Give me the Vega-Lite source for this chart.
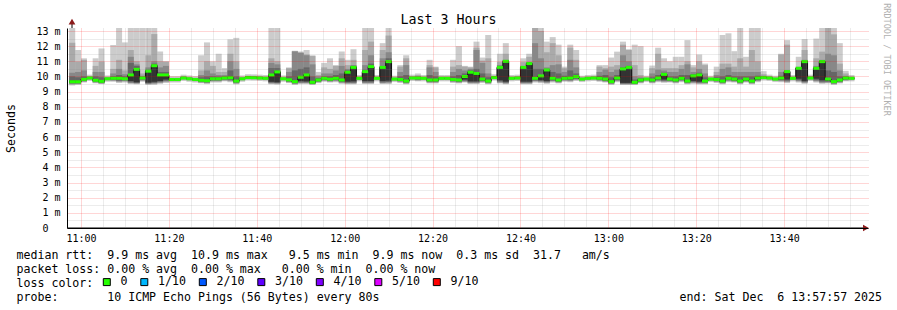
{
"$schema": "https://vega.github.io/schema/vega-lite/v6.json",
"width": 801, "height": 200,
"autosize": {"type": "none"},
"padding": {"left": 67, "top": 28, "right": 29, "bottom": 82},
"background": "#ffffff",
"config": {"view": {"stroke": null}, "font": "DejaVu Sans Mono"},
"title": {"text": "Last 3 Hours", "anchor": "middle", "frame": "group", "dx": -19, "dy": 39, "offset": 4, "baseline": "alphabetic", "font": "DejaVu Sans Mono", "fontSize": 13.3, "fontWeight": "normal", "color": "#000000"},
"datasets": {"smoke": [
{"t":39480,"m":9.66,"p1":9.4,"p2":9.45,"p3":9.5,"p4":9.55,"p5":9.6,"p6":9.72,"p7":10,"p8":10.25,"p9":12.23,"p10":13.6,"loss":"0"},
{"t":39560,"m":9.65,"p1":9.45,"p2":9.48,"p3":9.52,"p4":9.55,"p5":9.6,"p6":9.7,"p7":9.95,"p8":10.3,"p9":10.98,"p10":11.75,"loss":"0"},
{"t":39640,"m":9.81,"p1":9.6,"p2":9.64,"p3":9.68,"p4":9.72,"p5":9.76,"p6":9.86,"p7":10,"p8":10.4,"p9":11.1,"p10":11.2,"loss":"0"},
{"t":39720,"m":9.9,"p1":9.7,"p2":9.78,"p3":9.82,"p4":9.85,"p5":9.88,"p6":9.92,"p7":9.95,"p8":9.98,"p9":10.02,"p10":10.12,"loss":"0"},
{"t":39800,"m":9.75,"p1":9.55,"p2":9.58,"p3":9.62,"p4":9.66,"p5":9.7,"p6":9.8,"p7":10,"p8":10.3,"p9":10.7,"p10":11.2,"loss":"0"},
{"t":39880,"m":9.68,"p1":9.5,"p2":9.52,"p3":9.55,"p4":9.58,"p5":9.63,"p6":9.73,"p7":9.95,"p8":10.3,"p9":10.98,"p10":11.85,"loss":"0"},
{"t":39960,"m":9.85,"p1":9.65,"p2":9.73,"p3":9.77,"p4":9.8,"p5":9.83,"p6":9.87,"p7":9.9,"p8":9.93,"p9":9.97,"p10":10.07,"loss":"0"},
{"t":40040,"m":9.88,"p1":9.65,"p2":9.7,"p3":9.74,"p4":9.78,"p5":9.82,"p6":9.92,"p7":10,"p8":10.2,"p9":10.5,"p10":12.08,"loss":"0"},
{"t":40120,"m":9.88,"p1":9.58,"p2":9.62,"p3":9.68,"p4":9.72,"p5":9.8,"p6":9.93,"p7":10.1,"p8":10.5,"p9":11.1,"p10":13.6,"loss":"0"},
{"t":40200,"m":9.85,"p1":9.6,"p2":9.66,"p3":9.7,"p4":9.75,"p5":9.8,"p6":9.9,"p7":10,"p8":10.15,"p9":10.4,"p10":12.25,"loss":"0"},
{"t":40280,"m":10.1,"p1":9.5,"p2":9.55,"p3":9.58,"p4":9.62,"p5":9.7,"p6":10.15,"p7":10.9,"p8":11.3,"p9":11.75,"p10":13.6,"loss":"0"},
{"t":40360,"m":10.47,"p1":9.48,"p2":9.52,"p3":9.55,"p4":9.58,"p5":9.62,"p6":10.5,"p7":10.7,"p8":10.8,"p9":11,"p10":13.6,"loss":"0"},
{"t":40440,"m":9.9,"p1":9.65,"p2":9.7,"p3":9.75,"p4":9.8,"p5":9.84,"p6":9.94,"p7":9.98,"p8":10.05,"p9":10.2,"p10":13.6,"loss":"0"},
{"t":40520,"m":10.35,"p1":9.45,"p2":9.48,"p3":9.52,"p4":9.55,"p5":9.6,"p6":10.4,"p7":10.45,"p8":10.6,"p9":11.4,"p10":13.6,"loss":"0"},
{"t":40600,"m":10.71,"p1":9.45,"p2":9.5,"p3":9.55,"p4":9.58,"p5":9.65,"p6":10.76,"p7":10.85,"p8":11,"p9":12.8,"p10":13.6,"loss":"0"},
{"t":40680,"m":10.1,"p1":9.52,"p2":9.56,"p3":9.6,"p4":9.65,"p5":9.7,"p6":10.15,"p7":10.3,"p8":10.6,"p9":11,"p10":11.65,"loss":"0"},
{"t":40760,"m":10.1,"p1":9.58,"p2":9.62,"p3":9.68,"p4":9.72,"p5":9.8,"p6":10.15,"p7":10.3,"p8":10.7,"p9":10.98,"p10":11,"loss":"0"},
{"t":40840,"m":9.8,"p1":9.6,"p2":9.68,"p3":9.72,"p4":9.75,"p5":9.78,"p6":9.82,"p7":9.85,"p8":9.88,"p9":9.92,"p10":10.02,"loss":"0"},
{"t":40920,"m":9.8,"p1":9.6,"p2":9.68,"p3":9.72,"p4":9.75,"p5":9.78,"p6":9.82,"p7":9.85,"p8":9.88,"p9":9.92,"p10":10.02,"loss":"0"},
{"t":41000,"m":9.9,"p1":9.7,"p2":9.78,"p3":9.82,"p4":9.85,"p5":9.88,"p6":9.92,"p7":9.95,"p8":9.98,"p9":10.02,"p10":10.12,"loss":"0"},
{"t":41080,"m":9.85,"p1":9.65,"p2":9.73,"p3":9.77,"p4":9.8,"p5":9.83,"p6":9.87,"p7":9.9,"p8":9.93,"p9":9.97,"p10":10.07,"loss":"0"},
{"t":41160,"m":9.8,"p1":9.6,"p2":9.68,"p3":9.72,"p4":9.75,"p5":9.78,"p6":9.82,"p7":9.85,"p8":9.88,"p9":9.92,"p10":10.02,"loss":"0"},
{"t":41240,"m":9.75,"p1":9.55,"p2":9.58,"p3":9.62,"p4":9.66,"p5":9.7,"p6":9.8,"p7":9.95,"p8":10.1,"p9":10.4,"p10":11.4,"loss":"0"},
{"t":41320,"m":9.72,"p1":9.5,"p2":9.55,"p3":9.58,"p4":9.62,"p5":9.67,"p6":9.77,"p7":10,"p8":10.4,"p9":11,"p10":12.25,"loss":"0"},
{"t":41400,"m":9.85,"p1":9.6,"p2":9.66,"p3":9.7,"p4":9.75,"p5":9.8,"p6":9.9,"p7":10,"p8":10.2,"p9":10.7,"p10":11,"loss":"0"},
{"t":41480,"m":9.85,"p1":9.6,"p2":9.66,"p3":9.7,"p4":9.75,"p5":9.8,"p6":9.9,"p7":9.98,"p8":10.1,"p9":10.3,"p10":11.5,"loss":"0"},
{"t":41560,"m":9.9,"p1":9.68,"p2":9.72,"p3":9.76,"p4":9.8,"p5":9.85,"p6":9.95,"p7":10,"p8":10.1,"p9":10.3,"p10":10.55,"loss":"0"},
{"t":41640,"m":9.92,"p1":9.62,"p2":9.68,"p3":9.72,"p4":9.78,"p5":9.85,"p6":9.97,"p7":10.4,"p8":11,"p9":11.5,"p10":12.45,"loss":"0"},
{"t":41720,"m":9.7,"p1":9.48,"p2":9.52,"p3":9.56,"p4":9.6,"p5":9.65,"p6":9.75,"p7":10,"p8":10.5,"p9":11,"p10":12.55,"loss":"0"},
{"t":41800,"m":9.85,"p1":9.65,"p2":9.73,"p3":9.77,"p4":9.8,"p5":9.83,"p6":9.87,"p7":9.9,"p8":9.93,"p9":9.97,"p10":10.07,"loss":"0"},
{"t":41880,"m":9.93,"p1":9.73,"p2":9.81,"p3":9.85,"p4":9.88,"p5":9.91,"p6":9.95,"p7":9.98,"p8":10.01,"p9":10.05,"p10":10.15,"loss":"0"},
{"t":41960,"m":9.92,"p1":9.72,"p2":9.8,"p3":9.84,"p4":9.87,"p5":9.9,"p6":9.94,"p7":9.97,"p8":10,"p9":10.04,"p10":10.14,"loss":"0"},
{"t":42040,"m":9.9,"p1":9.7,"p2":9.78,"p3":9.82,"p4":9.85,"p5":9.88,"p6":9.92,"p7":9.95,"p8":9.98,"p9":10.02,"p10":10.12,"loss":"0"},
{"t":42120,"m":9.88,"p1":9.68,"p2":9.76,"p3":9.8,"p4":9.83,"p5":9.86,"p6":9.9,"p7":9.93,"p8":9.96,"p9":10,"p10":10.1,"loss":"0"},
{"t":42200,"m":10.1,"p1":9.48,"p2":9.52,"p3":9.56,"p4":9.6,"p5":9.65,"p6":10.15,"p7":10.55,"p8":10.9,"p9":11.2,"p10":13.6,"loss":"0"},
{"t":42280,"m":10.3,"p1":9.46,"p2":9.5,"p3":9.55,"p4":9.58,"p5":9.62,"p6":10.35,"p7":10.55,"p8":10.8,"p9":11,"p10":13.6,"loss":"0"},
{"t":42360,"m":9.85,"p1":9.65,"p2":9.73,"p3":9.77,"p4":9.8,"p5":9.83,"p6":9.87,"p7":9.9,"p8":9.93,"p9":9.97,"p10":10.07,"loss":"0"},
{"t":42440,"m":9.78,"p1":9.56,"p2":9.6,"p3":9.64,"p4":9.68,"p5":9.72,"p6":9.83,"p7":10,"p8":10.3,"p9":10.55,"p10":10.6,"loss":"0"},
{"t":42520,"m":9.66,"p1":9.45,"p2":9.48,"p3":9.52,"p4":9.56,"p5":9.6,"p6":9.72,"p7":10.4,"p8":11.65,"p9":11.68,"p10":11.7,"loss":"0"},
{"t":42600,"m":9.95,"p1":9.5,"p2":9.55,"p3":9.58,"p4":9.62,"p5":9.7,"p6":10,"p7":10.5,"p8":11.55,"p9":11.6,"p10":11.65,"loss":"0"},
{"t":42680,"m":10.1,"p1":9.5,"p2":9.55,"p3":9.58,"p4":9.62,"p5":9.68,"p6":10.15,"p7":10.6,"p8":11.4,"p9":11.45,"p10":11.75,"loss":"0"},
{"t":42760,"m":9.62,"p1":9.44,"p2":9.47,"p3":9.5,"p4":9.52,"p5":9.56,"p6":9.68,"p7":10,"p8":10.8,"p9":11.35,"p10":11.4,"loss":"0"},
{"t":42840,"m":9.77,"p1":9.56,"p2":9.6,"p3":9.64,"p4":9.68,"p5":9.72,"p6":9.82,"p7":9.9,"p8":10,"p9":10.1,"p10":10.3,"loss":"0"},
{"t":42920,"m":9.88,"p1":9.65,"p2":9.7,"p3":9.74,"p4":9.78,"p5":9.82,"p6":9.93,"p7":10,"p8":10.2,"p9":10.6,"p10":10.9,"loss":"0"},
{"t":43000,"m":9.82,"p1":9.6,"p2":9.64,"p3":9.68,"p4":9.72,"p5":9.76,"p6":9.87,"p7":10,"p8":10.2,"p9":10.5,"p10":11.2,"loss":"0"},
{"t":43080,"m":9.88,"p1":9.62,"p2":9.68,"p3":9.72,"p4":9.76,"p5":9.82,"p6":9.93,"p7":10.1,"p8":10.4,"p9":10.7,"p10":10.75,"loss":"0"},
{"t":43160,"m":9.77,"p1":9.52,"p2":9.56,"p3":9.6,"p4":9.65,"p5":9.7,"p6":9.82,"p7":10.2,"p8":10.7,"p9":11.2,"p10":11.65,"loss":"0"},
{"t":43240,"m":10.28,"p1":9.48,"p2":9.52,"p3":9.56,"p4":9.6,"p5":9.66,"p6":10.33,"p7":10.4,"p8":10.5,"p9":10.75,"p10":11.1,"loss":"0"},
{"t":43320,"m":10.6,"p1":9.48,"p2":9.52,"p3":9.56,"p4":9.6,"p5":9.68,"p6":10.65,"p7":10.7,"p8":10.75,"p9":11.1,"p10":11.8,"loss":"0"},
{"t":43400,"m":9.88,"p1":9.68,"p2":9.76,"p3":9.8,"p4":9.83,"p5":9.86,"p6":9.9,"p7":9.93,"p8":9.96,"p9":10,"p10":10.1,"loss":"0"},
{"t":43480,"m":10.32,"p1":9.5,"p2":9.54,"p3":9.58,"p4":9.62,"p5":9.7,"p6":10.37,"p7":10.45,"p8":10.75,"p9":11.75,"p10":13.6,"loss":"0"},
{"t":43560,"m":10.65,"p1":9.5,"p2":9.54,"p3":9.58,"p4":9.62,"p5":9.7,"p6":10.7,"p7":10.85,"p8":11.4,"p9":12.3,"p10":13.6,"loss":"0"},
{"t":43640,"m":9.88,"p1":9.68,"p2":9.76,"p3":9.8,"p4":9.83,"p5":9.86,"p6":9.9,"p7":9.93,"p8":9.96,"p9":10,"p10":10.1,"loss":"0"},
{"t":43720,"m":10.6,"p1":9.5,"p2":9.54,"p3":9.58,"p4":9.62,"p5":9.7,"p6":10.65,"p7":10.7,"p8":11.2,"p9":11.75,"p10":12.2,"loss":"0"},
{"t":43800,"m":10.98,"p1":9.5,"p2":9.55,"p3":9.6,"p4":9.64,"p5":9.72,"p6":11.03,"p7":11.2,"p8":11.6,"p9":12.7,"p10":13.6,"loss":"0"},
{"t":43880,"m":9.83,"p1":9.63,"p2":9.71,"p3":9.75,"p4":9.78,"p5":9.81,"p6":9.85,"p7":9.88,"p8":9.91,"p9":9.95,"p10":10.05,"loss":"0"},
{"t":43960,"m":9.8,"p1":9.58,"p2":9.62,"p3":9.66,"p4":9.7,"p5":9.74,"p6":9.85,"p7":10,"p8":10.3,"p9":10.65,"p10":10.75,"loss":"0"},
{"t":44040,"m":9.7,"p1":9.48,"p2":9.52,"p3":9.56,"p4":9.6,"p5":9.64,"p6":9.75,"p7":10.1,"p8":10.75,"p9":11.2,"p10":11.4,"loss":"0"},
{"t":44120,"m":9.9,"p1":9.7,"p2":9.78,"p3":9.82,"p4":9.85,"p5":9.88,"p6":9.92,"p7":9.95,"p8":9.98,"p9":10.02,"p10":10.12,"loss":"0"},
{"t":44200,"m":9.9,"p1":9.68,"p2":9.72,"p3":9.76,"p4":9.8,"p5":9.85,"p6":9.94,"p7":9.97,"p8":10.02,"p9":10.1,"p10":10.2,"loss":"0"},
{"t":44280,"m":9.88,"p1":9.68,"p2":9.76,"p3":9.8,"p4":9.83,"p5":9.86,"p6":9.9,"p7":9.93,"p8":9.96,"p9":10,"p10":10.1,"loss":"0"},
{"t":44360,"m":9.77,"p1":9.54,"p2":9.58,"p3":9.62,"p4":9.66,"p5":9.7,"p6":9.82,"p7":10.1,"p8":10.6,"p9":10.75,"p10":11.1,"loss":"0"},
{"t":44440,"m":9.77,"p1":9.54,"p2":9.58,"p3":9.62,"p4":9.66,"p5":9.7,"p6":9.82,"p7":10,"p8":10.3,"p9":10.6,"p10":10.65,"loss":"0"},
{"t":44520,"m":9.88,"p1":9.68,"p2":9.76,"p3":9.8,"p4":9.83,"p5":9.86,"p6":9.9,"p7":9.93,"p8":9.96,"p9":10,"p10":10.1,"loss":"0"},
{"t":44600,"m":9.88,"p1":9.68,"p2":9.76,"p3":9.8,"p4":9.83,"p5":9.86,"p6":9.9,"p7":9.93,"p8":9.96,"p9":10,"p10":10.1,"loss":"0"},
{"t":44680,"m":9.8,"p1":9.58,"p2":9.62,"p3":9.66,"p4":9.7,"p5":9.74,"p6":9.85,"p7":10,"p8":10.3,"p9":10.65,"p10":11.1,"loss":"0"},
{"t":44760,"m":9.77,"p1":9.54,"p2":9.58,"p3":9.62,"p4":9.66,"p5":9.7,"p6":9.82,"p7":10.1,"p8":10.5,"p9":10.75,"p10":12,"loss":"0"},
{"t":44840,"m":10,"p1":9.6,"p2":9.64,"p3":9.68,"p4":9.72,"p5":9.8,"p6":10.05,"p7":10.2,"p8":10.4,"p9":10.65,"p10":10.7,"loss":"0"},
{"t":44920,"m":10.28,"p1":9.5,"p2":9.54,"p3":9.58,"p4":9.62,"p5":9.68,"p6":10.33,"p7":10.4,"p8":10.5,"p9":10.6,"p10":10.65,"loss":"0"},
{"t":45000,"m":10.2,"p1":9.5,"p2":9.54,"p3":9.58,"p4":9.62,"p5":9.68,"p6":10.25,"p7":10.5,"p8":11.75,"p9":11.9,"p10":12.3,"loss":"0"},
{"t":45080,"m":9.83,"p1":9.58,"p2":9.62,"p3":9.66,"p4":9.7,"p5":9.76,"p6":9.88,"p7":10.2,"p8":10.9,"p9":11.05,"p10":11.25,"loss":"0"},
{"t":45160,"m":9.7,"p1":9.48,"p2":9.52,"p3":9.56,"p4":9.6,"p5":9.64,"p6":9.75,"p7":9.95,"p8":10.2,"p9":11.2,"p10":12.74,"loss":"0"},
{"t":45240,"m":9.93,"p1":9.73,"p2":9.81,"p3":9.85,"p4":9.88,"p5":9.91,"p6":9.95,"p7":9.98,"p8":10.01,"p9":10.05,"p10":10.15,"loss":"0"},
{"t":45320,"m":10.6,"p1":9.54,"p2":9.58,"p3":9.62,"p4":9.68,"p5":9.75,"p6":10.65,"p7":10.7,"p8":10.75,"p9":10.95,"p10":11.5,"loss":"0"},
{"t":45400,"m":11,"p1":9.48,"p2":9.52,"p3":9.56,"p4":9.6,"p5":9.66,"p6":11.05,"p7":11.07,"p8":11.1,"p9":11.5,"p10":12.2,"loss":"0"},
{"t":45480,"m":9.88,"p1":9.68,"p2":9.76,"p3":9.8,"p4":9.83,"p5":9.86,"p6":9.9,"p7":9.93,"p8":9.96,"p9":10,"p10":10.1,"loss":"0"},
{"t":45560,"m":9.9,"p1":9.7,"p2":9.78,"p3":9.82,"p4":9.85,"p5":9.88,"p6":9.92,"p7":9.95,"p8":9.98,"p9":10.02,"p10":10.12,"loss":"0"},
{"t":45640,"m":10.6,"p1":9.48,"p2":9.52,"p3":9.56,"p4":9.6,"p5":9.66,"p6":10.65,"p7":10.67,"p8":10.7,"p9":10.95,"p10":11.2,"loss":"0"},
{"t":45720,"m":10.85,"p1":9.48,"p2":9.52,"p3":9.56,"p4":9.6,"p5":9.66,"p6":10.9,"p7":10.92,"p8":10.95,"p9":11.3,"p10":11.5,"loss":"0"},
{"t":45800,"m":9.88,"p1":9.6,"p2":9.66,"p3":9.7,"p4":9.74,"p5":9.8,"p6":9.93,"p7":10.5,"p8":12.2,"p9":13.3,"p10":13.6,"loss":"0"},
{"t":45880,"m":10.04,"p1":9.56,"p2":9.62,"p3":9.66,"p4":9.7,"p5":9.76,"p6":10.1,"p7":10.5,"p8":11.2,"p9":13,"p10":13.6,"loss":"0"},
{"t":45960,"m":10.43,"p1":9.52,"p2":9.56,"p3":9.6,"p4":9.64,"p5":9.7,"p6":10.48,"p7":10.5,"p8":10.6,"p9":11.6,"p10":12.3,"loss":"0"},
{"t":46040,"m":9.88,"p1":9.6,"p2":9.66,"p3":9.7,"p4":9.74,"p5":9.8,"p6":9.93,"p7":10.3,"p8":10.75,"p9":12.2,"p10":12.6,"loss":"0"},
{"t":46120,"m":9.77,"p1":9.54,"p2":9.58,"p3":9.62,"p4":9.66,"p5":9.7,"p6":9.82,"p7":10.2,"p8":10.8,"p9":11.4,"p10":12.1,"loss":"0"},
{"t":46200,"m":9.88,"p1":9.65,"p2":9.7,"p3":9.74,"p4":9.78,"p5":9.82,"p6":9.93,"p7":10.05,"p8":10.3,"p9":10.55,"p10":10.65,"loss":"0"},
{"t":46280,"m":9.9,"p1":9.62,"p2":9.68,"p3":9.72,"p4":9.76,"p5":9.82,"p6":9.95,"p7":10.4,"p8":11.1,"p9":11.9,"p10":12.1,"loss":"0"},
{"t":46360,"m":9.99,"p1":9.7,"p2":9.76,"p3":9.8,"p4":9.84,"p5":9.9,"p6":10.04,"p7":10.2,"p8":10.6,"p9":11.1,"p10":11.75,"loss":"0"},
{"t":46440,"m":9.83,"p1":9.63,"p2":9.71,"p3":9.75,"p4":9.78,"p5":9.81,"p6":9.85,"p7":9.88,"p8":9.91,"p9":9.95,"p10":10.05,"loss":"0"},
{"t":46520,"m":9.88,"p1":9.68,"p2":9.76,"p3":9.8,"p4":9.83,"p5":9.86,"p6":9.9,"p7":9.93,"p8":9.96,"p9":10,"p10":10.1,"loss":"0"},
{"t":46600,"m":9.9,"p1":9.7,"p2":9.78,"p3":9.82,"p4":9.85,"p5":9.88,"p6":9.92,"p7":9.95,"p8":9.98,"p9":10.02,"p10":10.12,"loss":"0"},
{"t":46680,"m":9.88,"p1":9.65,"p2":9.7,"p3":9.74,"p4":9.78,"p5":9.82,"p6":9.93,"p7":10.05,"p8":10.3,"p9":10.65,"p10":10.75,"loss":"0"},
{"t":46760,"m":9.83,"p1":9.6,"p2":9.64,"p3":9.68,"p4":9.72,"p5":9.76,"p6":9.88,"p7":10.1,"p8":10.45,"p9":10.55,"p10":10.75,"loss":"0"},
{"t":46840,"m":9.66,"p1":9.45,"p2":9.48,"p3":9.52,"p4":9.56,"p5":9.6,"p6":9.71,"p7":9.95,"p8":10.3,"p9":10.65,"p10":11.25,"loss":"0"},
{"t":46920,"m":9.9,"p1":9.62,"p2":9.68,"p3":9.72,"p4":9.76,"p5":9.82,"p6":9.95,"p7":10.1,"p8":10.45,"p9":10.75,"p10":11.64,"loss":"0"},
{"t":47000,"m":10.5,"p1":9.44,"p2":9.47,"p3":9.5,"p4":9.54,"p5":9.58,"p6":10.55,"p7":10.6,"p8":11.4,"p9":12.1,"p10":12.3,"loss":"0"},
{"t":47080,"m":10.6,"p1":9.44,"p2":9.47,"p3":9.5,"p4":9.54,"p5":9.58,"p6":10.65,"p7":10.7,"p8":11,"p9":11.75,"p10":11.8,"loss":"0"},
{"t":47160,"m":9.62,"p1":9.44,"p2":9.47,"p3":9.5,"p4":9.52,"p5":9.56,"p6":9.67,"p7":9.8,"p8":10,"p9":10.75,"p10":12.1,"loss":"0"},
{"t":47240,"m":9.77,"p1":9.54,"p2":9.58,"p3":9.62,"p4":9.66,"p5":9.7,"p6":9.82,"p7":9.88,"p8":9.95,"p9":10.1,"p10":12,"loss":"0"},
{"t":47320,"m":9.83,"p1":9.63,"p2":9.71,"p3":9.75,"p4":9.78,"p5":9.81,"p6":9.85,"p7":9.88,"p8":9.91,"p9":9.95,"p10":10.05,"loss":"0"},
{"t":47400,"m":9.77,"p1":9.54,"p2":9.58,"p3":9.62,"p4":9.66,"p5":9.7,"p6":9.82,"p7":9.95,"p8":10.2,"p9":10.55,"p10":10.72,"loss":"0"},
{"t":47480,"m":9.9,"p1":9.62,"p2":9.68,"p3":9.72,"p4":9.76,"p5":9.82,"p6":9.95,"p7":10.1,"p8":10.45,"p9":11.5,"p10":11.9,"loss":"0"},
{"t":47560,"m":10.14,"p1":9.58,"p2":9.64,"p3":9.68,"p4":9.72,"p5":9.8,"p6":10.19,"p7":10.25,"p8":10.4,"p9":10.55,"p10":11.2,"loss":"0"},
{"t":47640,"m":9.83,"p1":9.6,"p2":9.64,"p3":9.68,"p4":9.72,"p5":9.76,"p6":9.88,"p7":10,"p8":10.3,"p9":10.55,"p10":11,"loss":"0"},
{"t":47720,"m":9.77,"p1":9.54,"p2":9.58,"p3":9.62,"p4":9.66,"p5":9.7,"p6":9.82,"p7":10,"p8":10.3,"p9":10.55,"p10":11.3,"loss":"0"},
{"t":47800,"m":9.88,"p1":9.62,"p2":9.68,"p3":9.72,"p4":9.76,"p5":9.82,"p6":9.93,"p7":10.1,"p8":10.5,"p9":10.75,"p10":11.3,"loss":"0"},
{"t":47880,"m":9.7,"p1":9.48,"p2":9.52,"p3":9.56,"p4":9.6,"p5":9.64,"p6":9.75,"p7":10.1,"p8":10.8,"p9":11,"p10":12.4,"loss":"0"},
{"t":47960,"m":10.04,"p1":9.52,"p2":9.56,"p3":9.6,"p4":9.64,"p5":9.7,"p6":10.09,"p7":10.15,"p8":10.3,"p9":10.6,"p10":10.75,"loss":"0"},
{"t":48040,"m":10.1,"p1":9.48,"p2":9.52,"p3":9.56,"p4":9.6,"p5":9.66,"p6":10.15,"p7":10.25,"p8":10.5,"p9":11,"p10":11.45,"loss":"0"},
{"t":48120,"m":9.7,"p1":9.48,"p2":9.52,"p3":9.56,"p4":9.6,"p5":9.64,"p6":9.75,"p7":9.95,"p8":10.2,"p9":10.75,"p10":10.85,"loss":"0"},
{"t":48200,"m":9.83,"p1":9.63,"p2":9.71,"p3":9.75,"p4":9.78,"p5":9.81,"p6":9.85,"p7":9.88,"p8":9.91,"p9":9.95,"p10":10.05,"loss":"0"},
{"t":48280,"m":9.8,"p1":9.58,"p2":9.62,"p3":9.66,"p4":9.7,"p5":9.74,"p6":9.85,"p7":9.95,"p8":10.1,"p9":10.3,"p10":10.65,"loss":"0"},
{"t":48360,"m":9.7,"p1":9.48,"p2":9.52,"p3":9.56,"p4":9.6,"p5":9.64,"p6":9.75,"p7":10,"p8":10.5,"p9":10.85,"p10":12.74,"loss":"0"},
{"t":48440,"m":9.88,"p1":9.62,"p2":9.68,"p3":9.72,"p4":9.76,"p5":9.82,"p6":9.93,"p7":10.1,"p8":10.6,"p9":10.85,"p10":12.85,"loss":"0"},
{"t":48520,"m":9.83,"p1":9.6,"p2":9.64,"p3":9.68,"p4":9.72,"p5":9.76,"p6":9.88,"p7":10,"p8":10.3,"p9":10.65,"p10":11.67,"loss":"0"},
{"t":48600,"m":9.7,"p1":9.48,"p2":9.52,"p3":9.56,"p4":9.6,"p5":9.64,"p6":9.75,"p7":10,"p8":10.3,"p9":11.2,"p10":13.6,"loss":"0"},
{"t":48680,"m":9.83,"p1":9.6,"p2":9.64,"p3":9.68,"p4":9.72,"p5":9.76,"p6":9.88,"p7":10,"p8":10.3,"p9":10.65,"p10":11.3,"loss":"0"},
{"t":48760,"m":9.7,"p1":9.48,"p2":9.52,"p3":9.56,"p4":9.6,"p5":9.64,"p6":9.75,"p7":10,"p8":10.3,"p9":11.75,"p10":13.6,"loss":"0"},
{"t":48840,"m":9.9,"p1":9.62,"p2":9.68,"p3":9.72,"p4":9.76,"p5":9.82,"p6":9.95,"p7":10.05,"p8":10.3,"p9":11,"p10":13.6,"loss":"0"},
{"t":48920,"m":9.93,"p1":9.73,"p2":9.81,"p3":9.85,"p4":9.88,"p5":9.91,"p6":9.95,"p7":9.98,"p8":10.05,"p9":10.15,"p10":10.35,"loss":"0"},
{"t":49000,"m":9.9,"p1":9.7,"p2":9.78,"p3":9.82,"p4":9.85,"p5":9.88,"p6":9.92,"p7":9.95,"p8":9.98,"p9":10.02,"p10":10.12,"loss":"0"},
{"t":49080,"m":9.83,"p1":9.63,"p2":9.71,"p3":9.75,"p4":9.78,"p5":9.81,"p6":9.85,"p7":9.88,"p8":9.91,"p9":9.95,"p10":10.05,"loss":"0"},
{"t":49160,"m":9.9,"p1":9.62,"p2":9.68,"p3":9.72,"p4":9.76,"p5":9.82,"p6":9.95,"p7":10.05,"p8":10.3,"p9":11.45,"p10":11.5,"loss":"0"},
{"t":49240,"m":10.32,"p1":9.56,"p2":9.62,"p3":9.66,"p4":9.72,"p5":9.8,"p6":10.36,"p7":10.37,"p8":10.4,"p9":12.1,"p10":12.4,"loss":"0"},
{"t":49320,"m":9.88,"p1":9.68,"p2":9.76,"p3":9.8,"p4":9.83,"p5":9.86,"p6":9.9,"p7":9.93,"p8":9.96,"p9":10,"p10":10.1,"loss":"0"},
{"t":49400,"m":10.54,"p1":9.6,"p2":9.66,"p3":9.7,"p4":9.76,"p5":9.85,"p6":10.58,"p7":10.58,"p8":10.6,"p9":10.65,"p10":11.3,"loss":"0"},
{"t":49480,"m":10.98,"p1":9.52,"p2":9.56,"p3":9.6,"p4":9.64,"p5":9.7,"p6":11.03,"p7":11.05,"p8":11.1,"p9":11.75,"p10":12.47,"loss":"0"},
{"t":49560,"m":9.9,"p1":9.7,"p2":9.78,"p3":9.82,"p4":9.85,"p5":9.88,"p6":9.92,"p7":9.95,"p8":9.98,"p9":10.02,"p10":10.12,"loss":"0"},
{"t":49640,"m":10.54,"p1":9.6,"p2":9.66,"p3":9.7,"p4":9.76,"p5":9.85,"p6":10.58,"p7":10.6,"p8":10.7,"p9":11.2,"p10":12.5,"loss":"0"},
{"t":49720,"m":10.98,"p1":9.52,"p2":9.56,"p3":9.6,"p4":9.66,"p5":9.75,"p6":11.03,"p7":11.05,"p8":11.1,"p9":11.64,"p10":13.6,"loss":"0"},
{"t":49800,"m":9.83,"p1":9.54,"p2":9.58,"p3":9.62,"p4":9.66,"p5":9.72,"p6":9.88,"p7":10.4,"p8":11.5,"p9":13.3,"p10":13.6,"loss":"0"},
{"t":49880,"m":9.66,"p1":9.45,"p2":9.48,"p3":9.52,"p4":9.56,"p5":9.6,"p6":9.71,"p7":10.3,"p8":11.4,"p9":12.78,"p10":13.6,"loss":"0"},
{"t":49960,"m":9.77,"p1":9.54,"p2":9.58,"p3":9.62,"p4":9.66,"p5":9.7,"p6":9.82,"p7":10,"p8":10.4,"p9":10.85,"p10":12.2,"loss":"0"},
{"t":50040,"m":9.9,"p1":9.68,"p2":9.72,"p3":9.76,"p4":9.8,"p5":9.85,"p6":9.95,"p7":9.98,"p8":10.05,"p9":10.2,"p10":10.37,"loss":"0"},
{"t":50120,"m":9.88,"p1":9.68,"p2":9.76,"p3":9.8,"p4":9.83,"p5":9.86,"p6":9.9,"p7":9.93,"p8":9.96,"p9":10,"p10":10.1,"loss":"0"}
]},
"data": {"name": "smoke"},
"encoding": {
 "x": {"field": "t", "type": "quantitative",
  "scale": {"domain": [39477, 50277], "nice": false, "zero": false},
  "axis": {
   "orient": "bottom",
   "values": [39600,39900,40200,40500,40800,41100,41400,41700,42000,42300,42600,42900,43200,43500,43800,44100,44400,44700,45000,45300,45600,45900,46200,46500,46800,47100,47400,47700,48000,48300,48600,48900,49200,49500,49800,50100],
   "labelExpr": "datum.value % 1200 === 0 ? utcFormat(datum.value * 1000, '%H:%M') : ''",
   "labelOverlap": false, "labelFlush": false,
   "labelFont": "DejaVu Sans Mono", "labelFontSize": 10, "labelColor": "#000000", "labelPadding": 5,
   "ticks": false, "tickSize": 0,
   "domainColor": "#000000", "domainWidth": 1,
   "grid": true,
   "gridColor": {"condition": {"test": "datum.value % 1200 === 0", "value": "rgba(255,0,0,0.32)"}, "value": "rgba(140,140,140,0.32)"},
   "gridDash": [1, 1], "gridWidth": 1,
   "zindex": 1,
   "title": ["median rtt:\u00a0\u00a09.9 ms avg\u00a0\u00a010.9 ms max\u00a0\u00a0\u00a09.5 ms min\u00a0\u00a09.9 ms now\u00a0\u00a00.3 ms sd\u00a0\u00a031.7\u00a0\u00a0\u00a0am/s",
             "packet loss: 0.00 % avg\u00a0\u00a00.00 % max\u00a0\u00a0\u00a00.00 % min\u00a0\u00a00.00 % now",
             "loss color:",
             "probe:\u00a0\u00a0\u00a0\u00a0\u00a0\u00a0\u00a010 ICMP Echo Pings (56 Bytes) every 80s\u00a0\u00a0\u00a0\u00a0\u00a0\u00a0\u00a0\u00a0\u00a0\u00a0\u00a0\u00a0\u00a0\u00a0\u00a0\u00a0\u00a0\u00a0\u00a0\u00a0\u00a0\u00a0\u00a0\u00a0\u00a0\u00a0\u00a0\u00a0\u00a0\u00a0\u00a0\u00a0\u00a0\u00a0\u00a0\u00a0\u00a0\u00a0\u00a0\u00a0\u00a0\u00a0\u00a0end: Sat Dec\u00a0\u00a06 13:57:57 2025"],
   "titleX": -51, "titleY": 30, "titleAnchor": "start", "titleAlign": "left", "titleBaseline": "alphabetic", "titleAngle": 0,
   "titleFont": "DejaVu Sans Mono", "titleFontSize": 11.6, "titleFontWeight": "normal", "titleColor": "#000000", "titleLineHeight": 14
  }
 }
},
"layer": [
 {"mark": {"type": "bar", "width": 6, "color": "#cccccc", "clip": true},
  "encoding": {
   "y": {"field": "p1", "type": "quantitative", "scale": {"domain": [0, 13.2], "nice": false, "zero": true},
    "axis": {
     "orient": "left",
     "values": [0,0.5,1,1.5,2,2.5,3,3.5,4,4.5,5,5.5,6,6.5,7,7.5,8,8.5,9,9.5,10,10.5,11,11.5,12,12.5,13],
     "labelExpr": "datum.value % 1 === 0 ? (datum.value === 0 ? '0' : datum.value + ' m') : ''",
     "labelOverlap": false, "labelFlush": false,
     "labelFont": "DejaVu Sans Mono", "labelFontSize": 10, "labelColor": "#000000",
     "labelPadding": {"condition": {"test": "datum.value === 0", "value": 19}, "value": 7},
     "ticks": false, "tickSize": 0,
     "domainColor": "#000000", "domainWidth": 1,
     "grid": true,
     "gridColor": {"condition": {"test": "datum.value % 1 === 0", "value": "rgba(255,0,0,0.32)"}, "value": "rgba(140,140,140,0.32)"},
     "gridDash": [1, 1], "gridWidth": 1,
     "zindex": 1,
     "title": "Seconds", "titleX": -56, "titleY": 100, "titleAngle": 270, "titleAlign": "center", "titleBaseline": "middle",
     "titleFont": "DejaVu Sans Mono", "titleFontSize": 11.6, "titleFontWeight": "normal", "titleColor": "#000000"
    }},
   "y2": {"field": "p10"}
  }},
 {"mark": {"type": "bar", "width": 6, "color": "#aaaaaa", "clip": true},
  "encoding": {"y": {"field": "p2", "type": "quantitative", "axis": null}, "y2": {"field": "p9"}}},
 {"mark": {"type": "bar", "width": 6, "color": "#888888", "clip": true},
  "encoding": {"y": {"field": "p3", "type": "quantitative", "axis": null}, "y2": {"field": "p8"}}},
 {"mark": {"type": "bar", "width": 6, "color": "#666666", "clip": true},
  "encoding": {"y": {"field": "p4", "type": "quantitative", "axis": null}, "y2": {"field": "p7"}}},
 {"mark": {"type": "bar", "width": 6, "color": "#333333", "clip": true},
  "encoding": {"y": {"field": "p5", "type": "quantitative", "axis": null}, "y2": {"field": "p6"}}},
 {"mark": {"type": "line", "interpolate": "step", "color": "#111111", "strokeWidth": 1, "clip": true},
  "encoding": {"y": {"field": "m", "type": "quantitative", "axis": null}}},
 {"mark": {"type": "tick", "orient": "horizontal", "size": 6, "thickness": 3, "opacity": 1, "clip": true},
  "encoding": {
   "y": {"field": "m", "type": "quantitative", "axis": null},
   "color": {"field": "loss", "type": "nominal",
    "scale": {"domain": ["0","1/10","2/10","3/10","4/10","5/10","9/10"], "range": ["#26ff00","#00b8ff","#0059ff","#5e00ff","#7e00ff","#dd00ff","#ff0000"]},
    "legend": {"title": null, "orient": "none", "legendX": 34, "legendY": 248, "direction": "horizontal",
     "labelFont": "DejaVu Sans Mono", "labelFontSize": 11.6, "labelColor": "#000000", "labelOffset": 8,
     "columnPadding": 10.5, "symbolType": "square", "symbolSize": 49, "symbolStrokeColor": "#000000", "symbolStrokeWidth": 1, "symbolOpacity": 1, "padding": 0}
   }
  }},
 {"data": {"values": [{"ax": 39477, "ax2": 39477, "ay": 13.2, "ay2": 13.55}, {"ax": 39423, "ax2": 50310, "ay": 0, "ay2": 0}]},
  "mark": {"type": "rule", "color": "#000000", "strokeWidth": 1, "clip": false},
  "encoding": {"x": {"field": "ax", "type": "quantitative"}, "x2": {"field": "ax2"},
   "y": {"field": "ay", "type": "quantitative", "axis": null}, "y2": {"field": "ay2"}}},
 {"data": {"values": [{"ax": 39477, "ay": 13.62}]},
  "mark": {"type": "point", "shape": "triangle-up", "filled": true, "color": "#8b1a1a", "size": 45, "opacity": 1, "strokeWidth": 0, "clip": false},
  "encoding": {"x": {"field": "ax", "type": "quantitative"}, "y": {"field": "ay", "type": "quantitative", "axis": null}}},
 {"data": {"values": [{"ax": 50317, "ay": 0}]},
  "mark": {"type": "point", "shape": "triangle-right", "filled": true, "color": "#8b1a1a", "size": 45, "opacity": 1, "strokeWidth": 0, "clip": false},
  "encoding": {"x": {"field": "ax", "type": "quantitative"},
   "y": {"field": "ay", "type": "quantitative",
    "axis": {"orient": "right", "labels": false, "ticks": false, "domain": false, "grid": false,
     "title": "RRDTOOL / TOBI OETIKER", "titleX": 18, "titleY": 31, "titleAngle": 90, "titleAlign": "center", "titleBaseline": "middle",
     "titleFont": "DejaVu Sans Mono", "titleFontSize": 8.5, "titleFontWeight": "normal", "titleColor": "#b0b0b0"}}}}
],
"resolve": {"axis": {"y": "independent"}}
}
